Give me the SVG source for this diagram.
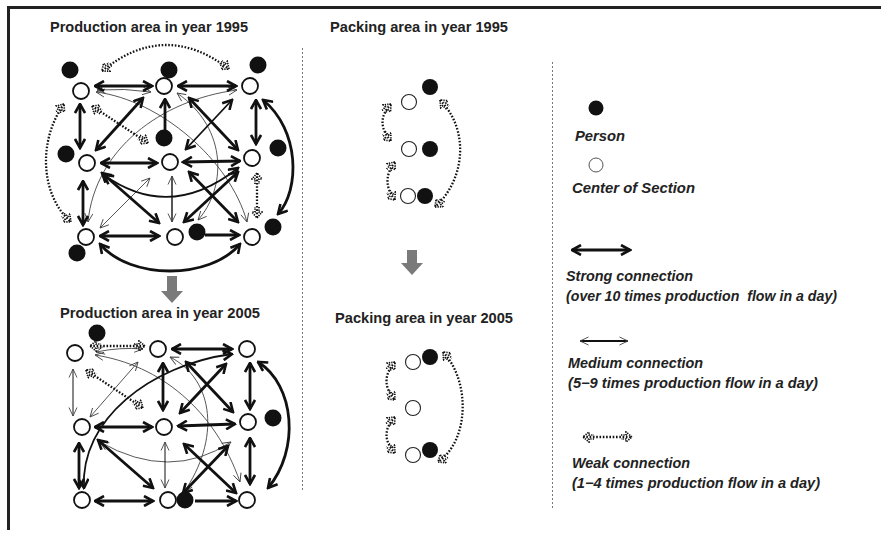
<svg xmlns="http://www.w3.org/2000/svg" width="881" height="533" viewBox="0 0 881 533">
<style>
.t{font-family:"Liberation Sans",Arial,sans-serif;font-size:14px;font-weight:bold;fill:#222}
.l{font-family:"Liberation Sans",Arial,sans-serif;font-size:14px;font-weight:bold;font-style:italic;fill:#222}
.sec{fill:#fff;stroke:#111;stroke-width:1.8}
.psec{fill:#fff;stroke:#222;stroke-width:1.1}
.per{fill:#111}
.s{fill:none;stroke:#111;stroke-width:2.8;marker-start:url(#as);marker-end:url(#as)}
.m{fill:none;stroke:#111;stroke-width:1.8;marker-start:url(#as);marker-end:url(#as)}
.th{fill:none;stroke:#444;stroke-width:0.9;marker-start:url(#at);marker-end:url(#at)}
.tb{fill:none;stroke:#111;stroke-width:1.4;marker-start:url(#at);marker-end:url(#at)}
.w{fill:none;stroke:#111;stroke-width:2.3;stroke-dasharray:1.6 1.7;marker-start:url(#aw);marker-end:url(#aw)}
.div{stroke:#777;stroke-width:1;stroke-dasharray:2 2}
.big{fill:#7a7a7a}
</style>
<defs>
<marker id="as" viewBox="0 0 12 12" refX="10.5" refY="6" markerWidth="12" markerHeight="12" markerUnits="userSpaceOnUse" orient="auto-start-reverse"><path d="M1.5,1 L10.5,6 L1.5,11" fill="none" stroke="#111" stroke-width="2.6"/></marker>
<marker id="at" viewBox="0 0 10 10" refX="9.5" refY="5" markerWidth="10" markerHeight="10" markerUnits="userSpaceOnUse" orient="auto-start-reverse"><path d="M1,1 L9.5,5 L1,9" fill="none" stroke="#444" stroke-width="0.9"/></marker>
<marker id="aw" viewBox="0 0 12 12" refX="11" refY="6" markerWidth="12" markerHeight="12" markerUnits="userSpaceOnUse" orient="auto-start-reverse"><path d="M0,4 L5,4 L5,1 L11,6 L5,11 L5,8 L0,8" fill="none" stroke="#111" stroke-width="1.7" stroke-dasharray="1.3 1.1"/></marker>
</defs>
<rect width="881" height="533" fill="#fff"/>
<g id="frame">
<line x1="8" y1="7.5" x2="881" y2="7.5" stroke="#222" stroke-width="3"/>
<line x1="8.5" y1="6" x2="8.5" y2="530" stroke="#222" stroke-width="3"/>
<line class="div" x1="302.5" y1="48" x2="302.5" y2="491"/>
<line class="div" x1="552.5" y1="62" x2="552.5" y2="508"/>
</g>
<g id="titles">
<text class="t" x="50" y="32" textLength="198" lengthAdjust="spacingAndGlyphs">Production area in year 1995</text>
<text class="t" x="330" y="32" textLength="178" lengthAdjust="spacingAndGlyphs">Packing area in year 1995</text>
<text class="t" x="60" y="318" textLength="200" lengthAdjust="spacingAndGlyphs">Production area in year 2005</text>
<text class="t" x="335" y="323" textLength="178" lengthAdjust="spacingAndGlyphs">Packing area in year 2005</text>
</g>
<g id="transitions">
<path class="big" d="M167,276 L177,276 L177,291 L183,291 L172,303 L161,291 L167,291 Z"/>
<path class="big" d="M407,250 L417,250 L417,263 L423,263 L412,275 L401,263 L407,263 Z"/>
</g>
<g id="connectors">
<path class="th" d="M96,92 C160,100 230,160 247,222"/>
<path class="th" d="M177,93 C230,130 225,190 198,220"/>
<path class="th" d="M237,90 C160,100 95,150 88,222"/>
<path class="th" d="M97,90 Q125,88 151,92"/>
<path class="th" d="M100,228 L150,178"/>
<path class="tb" d="M172,176 L172,222"/>
<path class="s" d="M95,86 L152,86"/>
<path class="s" d="M178,86 L236,86"/>
<path class="s" d="M80,104 L80,148"/>
<path class="s" d="M143,98 L96,150"/>
<path d="M165,130 L165,99" fill="none" stroke="#111" stroke-width="2.8" marker-end="url(#as)"/>
<path class="s" d="M189,98 L238,150"/>
<path class="m" d="M232,100 L186,149"/>
<path class="s" d="M256,100 L256,144"/>
<path class="s" d="M263,100 C300,130 300,190 278,214"/>
<path class="s" d="M101,163 L157,163"/>
<path class="s" d="M183,162 L240,161"/>
<path class="s" d="M83,181 L83,225"/>
<path class="s" d="M102,173 L159,223"/>
<path class="m" d="M104,175 Q170,222 238,168"/>
<path class="s" d="M238,172 L184,222"/>
<path class="s" d="M189,172 L238,222"/>
<path class="s" d="M100,236 L159,236"/>
<path d="M205,235 L239,235" fill="none" stroke="#111" stroke-width="2.8" marker-end="url(#as)"/>
<path class="s" d="M100,244 C130,280 210,280 240,244"/>
<path class="w" d="M102,71 Q165,20 229,69"/>
<path class="w" d="M64,104 C38,140 40,195 71,222"/>
<path class="w" d="M92,106 L148,143"/>
<path class="w" d="M257,173 L257,218"/>
<path class="th" d="M95,355 C160,365 215,410 240,482"/>
<path class="th" d="M170,357 C215,380 220,440 184,492"/>
<path class="th" d="M96,352 Q120,347 143,349"/>
<path class="th" d="M138,362 L90,417"/>
<path class="th" d="M100,442 Q170,482 231,442"/>
<path class="tb" d="M73,369 L73,416" style="stroke-width:1"/>
<path class="tb" d="M165,442 L165,488" style="stroke-width:1"/>
<path class="s" d="M172,349 L232,349"/>
<path class="s" d="M163,363 L163,410"/>
<path class="s" d="M186,362 L233,412"/>
<path class="s" d="M226,364 L180,413"/>
<path class="s" d="M250,363 L250,409"/>
<path class="s" d="M258,362 C295,385 300,450 268,488"/>
<path class="m" d="M84,488 C80,420 150,365 232,354"/>
<path class="s" d="M95,427 L152,427"/>
<path class="s" d="M178,426 L235,424"/>
<path class="s" d="M79,443 L79,488"/>
<path class="s" d="M98,440 L153,488"/>
<path class="s" d="M228,446 L183,493"/>
<path class="s" d="M184,444 L236,493"/>
<path class="s" d="M250,438 L250,484"/>
<path class="s" d="M95,501 L153,501"/>
<path d="M195,501 L236,501" fill="none" stroke="#111" stroke-width="2.8" marker-end="url(#as)"/>
<path class="w" d="M90,346 L145,346"/>
<path class="w" d="M86,370 L143,408"/>
<path class="w" d="M391,104 Q374,122 391,141"/>
<path class="w" d="M395,162 Q380,181 395,200"/>
<path class="w" d="M440,100 C470,130 465,180 435,207"/>
<path class="w" d="M395,362 Q378,381 395,400"/>
<path class="w" d="M395,417 Q378,435 395,453"/>
<path class="w" d="M443,352 C470,380 470,440 438,462"/>
</g>
<g id="prod1995">
<g id="p95-TL"><circle class="sec" cx="81" cy="91" r="8"/></g>
<g id="p95-TM"><circle class="sec" cx="164" cy="86" r="8"/></g>
<g id="p95-TR"><circle class="sec" cx="250" cy="86" r="8"/></g>
<g id="p95-ML"><circle class="sec" cx="87" cy="163" r="8"/></g>
<g id="p95-MC"><circle class="sec" cx="170" cy="162" r="8"/></g>
<g id="p95-MR"><circle class="sec" cx="252" cy="158" r="8"/></g>
<g id="p95-BL"><circle class="sec" cx="86" cy="237" r="8"/></g>
<g id="p95-BC"><circle class="sec" cx="175" cy="237" r="8"/></g>
<g id="p95-BR"><circle class="sec" cx="252" cy="237" r="8"/></g>
<g id="p95-person1"><circle class="per" cx="70" cy="70" r="8.5"/></g>
<g id="p95-person2"><circle class="per" cx="169" cy="70" r="8.5"/></g>
<g id="p95-person3"><circle class="per" cx="258" cy="65" r="8.5"/></g>
<g id="p95-person4"><circle class="per" cx="164" cy="138" r="8.5"/></g>
<g id="p95-person5"><circle class="per" cx="66" cy="154" r="8.5"/></g>
<g id="p95-person6"><circle class="per" cx="278" cy="148" r="8.5"/></g>
<g id="p95-person7"><circle class="per" cx="197" cy="232" r="8.5"/></g>
<g id="p95-person8"><circle class="per" cx="273" cy="227" r="8.5"/></g>
<g id="p95-person9"><circle class="per" cx="77" cy="253" r="8.5"/></g>
</g>
<g id="prod2005">
<g id="p05-TL"><circle class="sec" cx="75" cy="353" r="8"/></g>
<g id="p05-TM"><circle class="sec" cx="158" cy="349" r="8"/></g>
<g id="p05-TR"><circle class="sec" cx="247" cy="349" r="8"/></g>
<g id="p05-ML"><circle class="sec" cx="82" cy="427" r="8"/></g>
<g id="p05-MC"><circle class="sec" cx="164" cy="427" r="8"/></g>
<g id="p05-MR"><circle class="sec" cx="248" cy="422" r="8"/></g>
<g id="p05-BL"><circle class="sec" cx="82" cy="500" r="8"/></g>
<g id="p05-BC"><circle class="sec" cx="168" cy="500" r="8"/></g>
<g id="p05-BR"><circle class="sec" cx="247" cy="500" r="8"/></g>
<g id="p05-person1"><circle class="per" cx="97" cy="333" r="8.5"/></g>
<g id="p05-person2"><circle class="per" cx="273" cy="418" r="8.5"/></g>
<g id="p05-person3"><circle class="per" cx="185" cy="500" r="8.5"/></g>
</g>
<g id="pack1995">
<g id="k95-s1"><circle class="psec" cx="409" cy="102" r="7.5"/></g>
<g id="k95-s2"><circle class="psec" cx="409" cy="149" r="7.5"/></g>
<g id="k95-s3"><circle class="psec" cx="408" cy="196" r="7.5"/></g>
<g id="k95-p1"><circle class="per" cx="430" cy="87" r="8"/></g>
<g id="k95-p2"><circle class="per" cx="430" cy="149" r="8"/></g>
<g id="k95-p3"><circle class="per" cx="425" cy="196" r="8"/></g>
</g>
<g id="pack2005">
<g id="k05-s1"><circle class="psec" cx="413" cy="362" r="7.5"/></g>
<g id="k05-s2"><circle class="psec" cx="413" cy="408" r="7.5"/></g>
<g id="k05-s3"><circle class="psec" cx="413" cy="455" r="7.5"/></g>
<g id="k05-p1"><circle class="per" cx="430" cy="357" r="8"/></g>
<g id="k05-p2"><circle class="per" cx="430" cy="450" r="8"/></g>
</g>
<g id="legend">
<g id="leg-person"><circle class="per" cx="596" cy="108" r="7.5"/><text class="l" x="575" y="141" textLength="50" lengthAdjust="spacingAndGlyphs">Person</text></g>
<g id="leg-section"><circle cx="596" cy="165" r="7" fill="#fff" stroke="#555" stroke-width="1"/><text class="l" x="572" y="193" textLength="123" lengthAdjust="spacingAndGlyphs">Center of Section</text></g>
<g id="leg-strong"><path class="s" d="M572,250 L630,250"/><text class="l" x="566" y="281" textLength="127" lengthAdjust="spacingAndGlyphs">Strong connection</text><text class="l" x="566" y="301" textLength="271" lengthAdjust="spacingAndGlyphs" xml:space="preserve">(over 10 times production  flow in a day)</text></g>
<g id="leg-medium"><path class="tb" d="M580,341 L628,341" style="stroke-width:2"/><text class="l" x="568" y="368" textLength="135" lengthAdjust="spacingAndGlyphs">Medium connection</text><text class="l" x="568" y="388" textLength="250" lengthAdjust="spacingAndGlyphs">(5−9 times production flow in a day)</text></g>
<g id="leg-weak"><path class="w" d="M583,437 L632,437"/><text class="l" x="572" y="468" textLength="118" lengthAdjust="spacingAndGlyphs">Weak connection</text><text class="l" x="572" y="488" textLength="248" lengthAdjust="spacingAndGlyphs">(1−4 times production flow in a day)</text></g>
</g>
</svg>
